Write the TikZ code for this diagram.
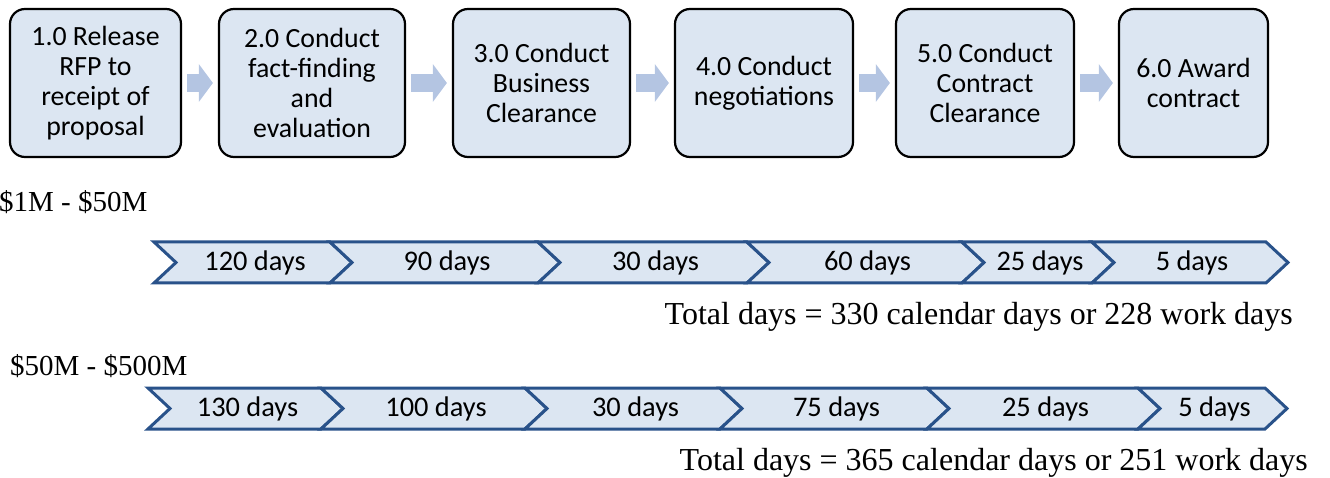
\documentclass[tikz,border=0pt]{standalone}
\usepackage{fontspec}
\setmainfont{Liberation Serif}
\setsansfont{Carlito}
\usetikzlibrary{arrows.meta}
\definecolor{boxfill}{RGB}{220,230,242}
\definecolor{flowarrow}{RGB}{180,197,226}
\definecolor{chevronline}{RGB}{41,82,138}

\begin{document}
\begin{tikzpicture}[x=1pt,y=-1pt,
  stage/.style={draw=black, line width=2.2pt, fill=boxfill, rounded corners=15pt,
    minimum height=148pt, align=center, inner sep=0pt,
    font=\sffamily\fontsize{27.8}{30}\selectfont},
  flow/.style={draw=flowarrow, line width=18pt,
    -{Triangle[length=14pt,width=37pt]}, shorten <=5pt, shorten >=5pt},
  chev/.style={draw=chevronline, line width=3pt, fill=boxfill, line join=miter},
  chevtext/.style={font=\sffamily\fontsize{28.4}{30}\selectfont, inner sep=0pt},
  costband/.style={font=\fontsize{29}{34}\selectfont, inner sep=0pt, anchor=base west},
  totalline/.style={font=\fontsize{32}{36}\selectfont, inner sep=0pt, anchor=base east}]

\useasboundingbox (0,0) rectangle (1330,478);

% process stages
\node[stage, minimum width=171pt] (s1) at (95.5,83)  {1.0 Release\\RFP to\\receipt of\\proposal};
\node[stage, minimum width=186pt] (s2) at (312,83)   {2.0 Conduct\\fact-finding\\and\\evaluation};
\node[stage, minimum width=177pt] (s3) at (541.5,83) {3.0 Conduct\\Business\\Clearance};
\node[stage, minimum width=178pt] (s4) at (764,83)   {4.0 Conduct\\negotiations};
\node[stage, minimum width=178pt] (s5) at (985,83)   {5.0 Conduct\\Contract\\Clearance};
\node[stage, minimum width=149pt] (s6) at (1193.5,83){6.0 Award\\contract};

% block arrows between stages
\draw[flow] (s1) -- (s2);
\draw[flow] (s2) -- (s3);
\draw[flow] (s3) -- (s4);
\draw[flow] (s4) -- (s5);
\draw[flow] (s5) -- (s6);

% timeline for $1M - $50M
\node[costband] (lo) at (-1,212) {\$1M - \$50M};
\foreach \a/\b/\t [count=\i] in {154/330/120 days, 330/538/90 days, 538/747/30 days,
    747/962/60 days, 962/1092/25 days, 1092/1266/5 days} {
  \draw[chev] (\a,242) -- (\b,242) -- (\b+22,262.5) -- (\b,283) -- (\a,283)
    -- (\a+22,262.5) -- cycle;
  \node[chevtext] (lo\i) at ({(\a+22+\b)/2+2},263) {\t};
}
\node[totalline] (lototal) at (1293,324) {Total days = 330 calendar days or 228 work days};

% timeline for $50M - $500M
\node[costband] (hi) at (10,375) {\$50M - \$500M};
\foreach \a/\b/\t [count=\i] in {148/321/130 days, 321/525/100 days, 525/720/30 days,
    720/927/75 days, 927/1138/25 days, 1138/1265/5 days} {
  \draw[chev] (\a,388) -- (\b,388) -- (\b+22,408.5) -- (\b,429) -- (\a,429)
    -- (\a+22,408.5) -- cycle;
  \node[chevtext] (hi\i) at ({(\a+22+\b)/2+2},409) {\t};
}
\node[totalline] (hitotal) at (1308,470) {Total days = 365 calendar days or 251 work days};

\end{tikzpicture}
\end{document}
